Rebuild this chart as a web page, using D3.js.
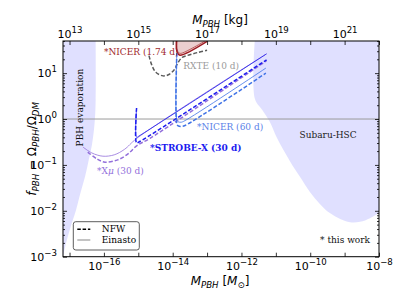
<!DOCTYPE html>
<html>
<head>
<meta charset="utf-8">
<script src="https://cdn.jsdelivr.net/npm/d3@7"></script>
<style>
  body { margin: 0; background: #fff; }
  svg { display: block; }
  .ann { font-family: "DejaVu Serif", serif; font-size: 9px; }
</style>
</head>
<body>
<svg id="chart" width="407" height="305"></svg>
<script>
// every curve is a list of [log10(M / Msun), log10(f_PBH)]
const evapEdge = [[-16.24, 1.75], [-16.24, 0.41], [-16.26, 0.02], [-16.29, -0.24], [-16.35, -0.57],
  [-16.44, -0.89], [-16.55, -1.26], [-16.70, -1.66], [-16.81, -1.98], [-16.96, -2.33], [-17.08, -2.64], [-17.18, -2.96], [-17.20, -3.05]];
const subaruEdge = [[-11.61, 1.75], [-11.61, 0.44], [-11.40, 0.20], [-11.17, -0.07], [-10.97, -0.41], [-10.59, -0.92],
  [-10.30, -1.26], [-10.01, -1.59], [-9.72, -1.85], [-9.43, -2.05], [-9.13, -2.18], [-8.84, -2.25], [-8.55, -2.24], [-8.26, -2.16], [-8.00, -2.05]];
const nicer174Nfw = [[-13.89, 1.75], [-13.89, 1.52], [-13.86, 1.44], [-13.79, 1.39], [-13.00, 1.69]];
const nicer174Ein = [[-13.87, 1.75], [-13.87, 1.50], [-13.83, 1.45], [-13.77, 1.43], [-13.06, 1.70]];
const rxte = [[-14.69, 1.38], [-14.60, 1.16], [-14.49, 1.02], [-14.28, 0.94], [-14.11, 0.97], [-13.96, 1.07],
  [-13.85, 1.22], [-13.73, 1.34], [-13.50, 1.40], [-13.27, 1.45], [-13.00, 1.50]];
const nicer60Nfw = [[-13.88, 1.44], [-13.88, -0.10], [-13.84, -0.15], [-13.74, -0.16], [-13.64, -0.14], [-11.29, 1.00]];
const nicer60Ein = [[-13.88, 1.44], [-13.88, -0.02], [-13.84, -0.06], [-13.76, -0.07], [-13.68, -0.05], [-11.29, 1.11]];
const strobeNfw = [[-15.05, 0.24], [-15.05, -0.52], [-14.98, -0.50], [-11.27, 1.29]];
const strobeEin = [[-15.05, 0.24], [-15.05, -0.40], [-14.98, -0.37], [-11.27, 1.42]];
const xmuNfw = [[-16.47, -0.72], [-16.20, -0.87], [-15.97, -0.94], [-15.60, -0.89], [-15.30, -0.76],
  [-15.04, -0.58], [-14.66, -0.42], [-11.27, 1.27]];
const xmuEin = [[-16.61, -0.61], [-16.35, -0.74], [-16.03, -0.81], [-15.70, -0.78], [-15.40, -0.66],
  [-15.04, -0.42], [-11.27, 1.42]];

const massExp = d3.range(-17, -7);   // bottom ticks, labels on even ones
const kgExp = d3.range(13, 23);      // top ticks, labels on odd ones
const fExp = [-3, -2, -1, 0, 1];
const KG_PER_MSUN = 1e30;

const W = 407, H = 305;
const margin = {top: 41, right: 28, bottom: 48.3, left: 63};

const x = d3.scaleLog().domain([10 ** -17.19, 1e-8]).range([margin.left, W - margin.right]);
const xTop = d3.scaleLog().domain(x.domain().map(v => v * KG_PER_MSUN)).range(x.range());
const y = d3.scaleLog().domain([1e-3, 10 ** 1.7]).range([H - margin.bottom, margin.top]);

const svg = d3.select("#chart");
const X = d => x(10 ** d[0]), Y = d => y(10 ** d[1]);

svg.append("defs").append("clipPath").attr("id", "clip").append("rect")
  .attr("x", x.range()[0]).attr("y", y.range()[1])
  .attr("width", x.range()[1] - x.range()[0]).attr("height", y.range()[0] - y.range()[1]);

const plot = svg.append("g").attr("clip-path", "url(#clip)");

//shaded excluded regions
const shade = "rgba(0,0,255,0.12)";
plot.append("path").datum(evapEdge)
  .attr("d", d3.area().curve(d3.curveCatmullRom).y(Y).x0(x.range()[0]).x1(X))
  .attr("fill", shade);
plot.append("path").datum(subaruEdge)
  .attr("d", d3.area().curve(d3.curveCatmullRom).x(X).y0(y.range()[1]).y1(Y))
  .attr("fill", shade);

//f = 1 line
plot.append("line")
  .attr("x1", x.range()[0]).attr("x2", x.range()[1])
  .attr("y1", y(1)).attr("y2", y(1))
  .attr("stroke", "#9a9a9a").attr("stroke-width", 1);

const curve = d3.line().curve(d3.curveCatmullRom).x(X).y(Y);

function draw(data, color, dashed, width) {
  return plot.append("path").datum(data)
    .attr("d", curve)
    .attr("fill", "none")
    .attr("stroke", color)
    .attr("stroke-width", width || (dashed ? 1.5 : 0.8))
    .attr("stroke-dasharray", dashed ? "4,2" : null);
}

// NICER 1.74 d filled region
plot.append("path").datum(nicer174Nfw)
  .attr("d", d3.area().curve(d3.curveCatmullRom).x(X).y0(y.range()[1]).y1(Y))
  .attr("fill", "rgba(163,31,36,0.22)");
draw(nicer174Ein, "#b04040", false);
draw(nicer174Nfw, "#9e1b22", false, 1.5);

draw(rxte, "#5a5a5a", true);

const cXmu = "#9370db", cStrobe = "#1c1cf0", cNicer = "#3f72e6";
draw(xmuEin, cXmu, false);
draw(strobeEin, cStrobe, false);
draw(nicer60Ein, cNicer, false);
draw(xmuNfw, cXmu, true);
draw(strobeNfw, cStrobe, true);
draw(nicer60Nfw, cNicer, true);

//annotations
function ann(txt, m, f, color, opts = {}) {
  const t = svg.append("text").attr("class", "ann")
    .attr("x", x(10 ** m)).attr("y", y(10 ** f)).attr("dy", "0.35em")
    .attr("fill", color).attr("text-anchor", opts.anchor || "start")
    .text(txt);
  if (opts.bold) t.attr("font-weight", "bold").attr("font-size", "8px");
  return t;
}
ann("*NICER (1.74 d)", -16.0, 1.46, "#a0282c");
ann("RXTE (10 d)", -13.69, 1.148, "#9a9a9a");
ann("*NICER (60 d)", -13.29, -0.174, "#5a82e8");
ann("*STROBE-X (30 d)", -14.66, -0.62, cStrobe, {bold: true});
const xm = ann("*X", -16.2, -1.13, cXmu);
xm.append("tspan").attr("font-style", "italic").text("\u03bc");
xm.append("tspan").text(" (30 d)");
ann("Subaru-HSC", -9.48, -0.35, "#222", {anchor: "middle"});
ann("* this work", -8.26, -2.64, "#111", {anchor: "end"});
svg.append("text").attr("class", "ann")
  .attr("transform", `translate(${x(10 ** -16.70)},${y(10 ** 0.25)}) rotate(-90)`)
  .attr("text-anchor", "middle").attr("dy", "0.35em").attr("fill", "#111")
  .text("PBH evaporation");

//legend, lower left
const lg = svg.append("g").attr("transform", `translate(${x.range()[0] + 10.3},${y.range()[0] - 35})`);
lg.append("rect").attr("width", 66).attr("height", 28.3).attr("rx", 2.5)
  .attr("fill", "#fff").attr("stroke", "#333").attr("stroke-width", 0.8);
lg.append("line").attr("x1", 4).attr("x2", 17).attr("y1", 7.6).attr("y2", 7.6)
  .attr("stroke", "#000").attr("stroke-width", 1.5).attr("stroke-dasharray", "3.5,1.8");
lg.append("line").attr("x1", 4).attr("x2", 17).attr("y1", 18.3).attr("y2", 18.3)
  .attr("stroke", "#555").attr("stroke-width", 0.7);
lg.append("text").attr("class", "ann").attr("x", 28.5).attr("y", 7.6).attr("dy", "0.35em").text("NFW");
lg.append("text").attr("class", "ann").attr("x", 28.5).attr("y", 18.3).attr("dy", "0.35em").text("Einasto");

//axes
function pow10(sel, e, raise) {
  sel.text(null);
  sel.append("tspan").text("10");
  sel.append("tspan").attr("dy", -raise).attr("font-size", "0.78em")
    .text(e < 0 ? "\u2212" + (-e) : e);
}
function styleAxis(g) {
  g.attr("font-family", "DejaVu Sans, sans-serif").attr("font-size", 11);
  g.select(".domain").remove();
  g.selectAll(".tick line").attr("stroke", "#000").attr("stroke-width", 0.8);
  g.selectAll(".tick text").attr("fill", "#000");
}

const gB = svg.append("g").attr("transform", `translate(0,${y.range()[0]})`)
  .call(d3.axisBottom(x).tickValues(massExp.map(e => 10 ** e)).tickSizeInner(-4).tickSizeOuter(0).tickPadding(6))
  .call(styleAxis);
gB.selectAll(".tick text").each(function(d) {
  const e = Math.round(Math.log10(d));
  if (e % 2 === 0) pow10(d3.select(this), e, 5); else d3.select(this).text(null);
});

const gT = svg.append("g").attr("transform", `translate(0,${y.range()[1]})`)
  .call(d3.axisTop(xTop).tickValues(kgExp.map(e => 10 ** e)).tickSizeInner(-4).tickSizeOuter(0).tickPadding(2.7))
  .call(styleAxis);
gT.selectAll(".tick text").each(function(d) {
  const e = Math.round(Math.log10(d));
  if (e % 2 !== 0) pow10(d3.select(this), e, 5); else d3.select(this).text(null);
});

const fMinor = [];
fExp.forEach(e => { for (let m = 2; m <= 9; m++) if (m * 10 ** e <= y.domain()[1]) fMinor.push(m * 10 ** e); });

const gL = svg.append("g").attr("transform", `translate(${x.range()[0]},0)`)
  .call(d3.axisLeft(y).tickValues(fExp.map(e => 10 ** e)).tickSizeInner(-4).tickSizeOuter(0).tickPadding(6))
  .call(styleAxis);
gL.selectAll(".tick text").each(function(d) { pow10(d3.select(this), Math.round(Math.log10(d)), 5); });
svg.append("g").attr("transform", `translate(${x.range()[0]},0)`)
  .call(d3.axisLeft(y).tickValues(fMinor).tickSizeInner(-2).tickSizeOuter(0).tickFormat(""))
  .call(styleAxis);
svg.append("g").attr("transform", `translate(${x.range()[1]},0)`)
  .call(d3.axisRight(y).tickValues(fExp.map(e => 10 ** e)).tickSizeInner(-4).tickSizeOuter(0).tickFormat(""))
  .call(styleAxis);
svg.append("g").attr("transform", `translate(${x.range()[1]},0)`)
  .call(d3.axisRight(y).tickValues(fMinor).tickSizeInner(-2).tickSizeOuter(0).tickFormat(""))
  .call(styleAxis);

svg.append("rect")
  .attr("x", x.range()[0]).attr("y", y.range()[1])
  .attr("width", x.range()[1] - x.range()[0]).attr("height", y.range()[0] - y.range()[1])
  .attr("fill", "none").attr("stroke", "#000").attr("stroke-width", 1);

//axis titles
function sub(t, s, dy) {
  t.append("tspan").attr("font-size", "0.72em").attr("font-style", "italic").attr("dy", dy).text(s);
}
const midX = (x.range()[0] + x.range()[1]) / 2;
const tb = svg.append("text").attr("x", midX - 1).attr("y", 285).attr("text-anchor", "middle")
  .attr("font-family", "DejaVu Sans, sans-serif").attr("font-size", 12);
tb.append("tspan").attr("font-style", "italic").text("M");
sub(tb, "PBH", 2.5);
tb.append("tspan").attr("dy", -2.5).text(" [");
tb.append("tspan").attr("font-style", "italic").text("M");
sub(tb, "\u2299", 2.5);
tb.append("tspan").attr("dy", -2.5).text("]");

const tt = svg.append("text").attr("x", midX - 1).attr("y", 24).attr("text-anchor", "middle")
  .attr("font-family", "DejaVu Sans, sans-serif").attr("font-size", 12);
tt.append("tspan").attr("font-style", "italic").text("M");
sub(tt, "PBH", 2.5);
tt.append("tspan").attr("dy", -2.5).text(" [kg]");

const tl = svg.append("text")
  .attr("transform", `translate(32,${(y.range()[0] + y.range()[1]) / 2}) rotate(-90)`)
  .attr("text-anchor", "middle").attr("dy", "0.35em")
  .attr("font-family", "DejaVu Sans, sans-serif").attr("font-size", 12);
tl.append("tspan").attr("font-style", "italic").text("f");
sub(tl, "PBH", 2.5);
tl.append("tspan").attr("dy", -2.5).text(" = \u03a9");
sub(tl, "PBH", 2.5);
tl.append("tspan").attr("dy", -2.5).text("/\u03a9");
sub(tl, "DM", 2.5);
</script>
</body>
</html>
